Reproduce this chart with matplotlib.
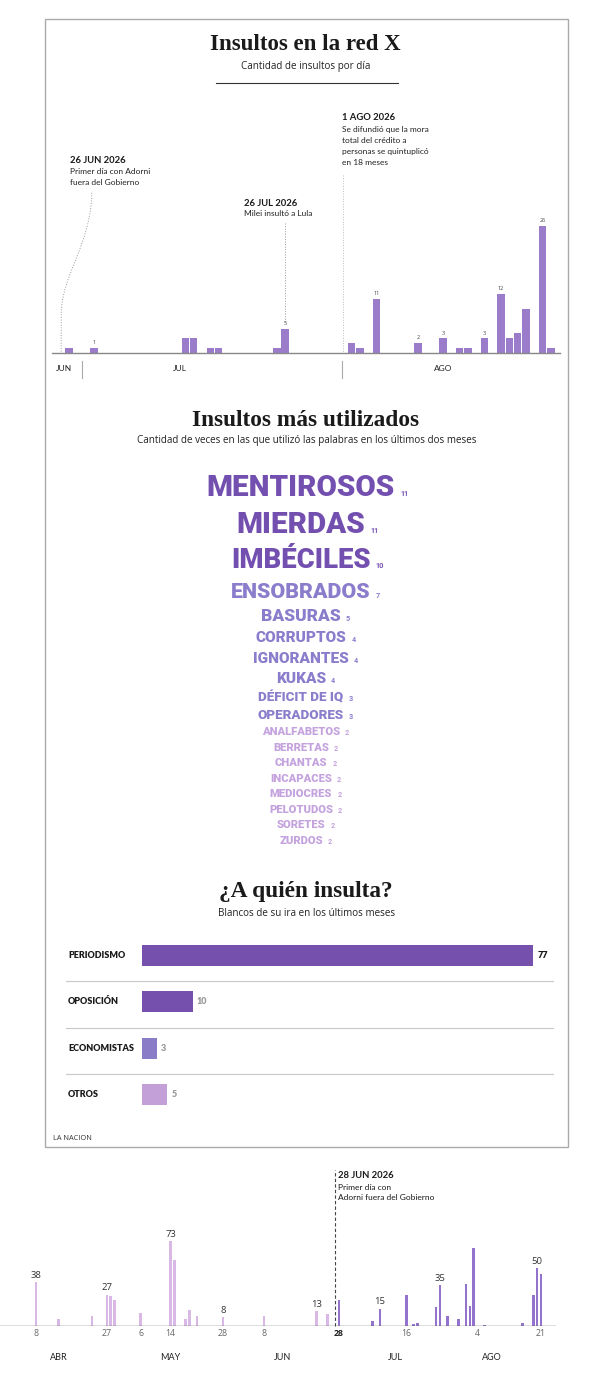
import matplotlib
matplotlib.use('Agg')
import matplotlib.pyplot as plt
import matplotlib.dates as mdates
from matplotlib.patches import Rectangle, PathPatch
from matplotlib.path import Path
from datetime import date

W, H = 600, 1393

# --- Insultos por dia (top chart): day slot and count
top_days = [0, 3, 14, 15, 17, 18, 25, 26, 34, 35, 37, 42, 45, 47, 48, 50, 52, 53, 54, 55, 57, 58]
top_counts = [1, 1, 3, 3, 1, 1, 1, 5, 2, 1, 11, 2, 3, 1, 1, 3, 12, 3, 4, 9, 26, 1]
top_labeled = [3, 26, 37, 42, 45, 50, 52, 57]
top_months = ['JUN', 'JUL', 'AGO']

# --- Insultos mas utilizados
words = ['MENTIROSOS', 'MIERDAS', 'IMBÉCILES', 'ENSOBRADOS', 'BASURAS', 'CORRUPTOS',
         'IGNORANTES', 'KUKAS', 'DÉFICIT DE IQ', 'OPERADORES', 'ANALFABETOS', 'BERRETAS',
         'CHANTAS', 'INCAPACES', 'MEDIOCRES', 'PELOTUDOS', 'SORETES', 'ZURDOS']
word_counts = [11, 11, 10, 7, 5, 4, 4, 4, 3, 3, 2, 2, 2, 2, 2, 2, 2, 2]

# --- A quien insulta
targets = ['PERIODISMO', 'OPOSICIÓN', 'ECONOMISTAS', 'OTROS']
target_counts = [77, 10, 3, 5]

# --- Historial (bottom chart)
hist_dates = ['2026-04-08', '2026-04-14', '2026-04-23', '2026-04-27', '2026-04-28', '2026-04-29',
              '2026-05-06', '2026-05-14', '2026-05-15', '2026-05-18', '2026-05-19', '2026-05-21',
              '2026-05-28', '2026-06-08', '2026-06-22', '2026-06-25', '2026-06-28', '2026-07-07',
              '2026-07-09', '2026-07-16', '2026-07-18', '2026-07-19', '2026-07-24', '2026-07-25',
              '2026-07-27', '2026-07-30', '2026-08-01', '2026-08-02', '2026-08-03', '2026-08-06',
              '2026-08-16', '2026-08-19', '2026-08-20', '2026-08-21']
hist_counts = [38, 6, 9, 27, 26, 22, 11, 73, 57, 6, 14, 9, 8, 9, 13, 10, 22, 4,
               15, 27, 2, 3, 16, 35, 9, 6, 36, 17, 67, 1, 3, 27, 50, 45]
hist_labeled = ['2026-04-08', '2026-04-27', '2026-05-14', '2026-05-28', '2026-06-22',
                '2026-07-09', '2026-07-25', '2026-08-20']
hist_ticks = ['2026-04-08', '2026-04-27', '2026-05-06', '2026-05-14', '2026-05-28',
              '2026-06-08', '2026-06-28', '2026-07-16', '2026-08-04', '2026-08-21']
hist_months = ['ABR', 'MAY', 'JUN', 'JUL', 'AGO']
hist_month_dates = ['2026-04-14', '2026-05-14', '2026-06-13', '2026-07-13', '2026-08-08']
adorni_out = '2026-06-27'

SERIF = ['Liberation Serif', 'DejaVu Serif']
SANS = ['Open Sans', 'DejaVu Sans']
LATO = ['Lato', 'DejaVu Sans']
ROBO = ['Roboto', 'DejaVu Sans']

fig = plt.figure(figsize=(W / 100, H / 100), dpi=100)


def add_ax(x0, y0, x1, y1):
    ax = fig.add_axes([x0 / W, 1 - y1 / H, (x1 - x0) / W, (y1 - y0) / H])
    ax.set_axis_off()
    return ax


def ftext(x, y, s, **kw):
    return fig.text(x / W, 1 - y / H, s, **kw)


def d2n(s):
    return mdates.date2num(date.fromisoformat(s))


# panel frame
fig.patches.append(Rectangle((44.5 / W, 1 - 1147 / H), (568 - 44.5) / W, (1147 - 18.5) / H,
                             transform=fig.transFigure, fill=False, ec='#aaaaaa', lw=1))

# ================= top chart
ftext(305, 45, 'Insultos en la red X', ha='center', va='center', family=SERIF,
      weight='bold', fontsize=16.5, color='#1a1a1a')
ftext(306, 66, 'Cantidad de insultos por día', ha='center', va='center', family=SANS,
      fontsize=7.1, color='#222222')
fig.lines.append(plt.Line2D([216 / W, 398 / W], [1 - 83 / H, 1 - 83 / H],
                            transform=fig.transFigure, color='#333333', lw=0.8))

px_unit = 4.9
ax1 = add_ax(51.7, 100, 560, 353)
ax1.set_xlim(-2.1, 59.1)
ax1.set_ylim(0, 253 / px_unit)
ax1.bar(top_days, top_counts, width=0.9, color='#9b7ccb', zorder=2)
for d, c in zip(top_days, top_counts):
    if d in top_labeled:
        ax1.annotate(str(c), (d, c), xytext=(0, 2), textcoords='offset points',
                     ha='center', va='bottom', fontsize=4, color='#444444', family=SANS)
ax1.axhline(0, color='#888888', lw=1, clip_on=False, zorder=3)

# month labels and separators
for name, pos, ha in zip(top_months, [-1.6, 12.5, 45.0], ['left', 'left', 'center']):
    ax1.text(pos, -3.1, name, ha=ha, va='center', fontsize=6, family=LATO,
             color='#222222', clip_on=False)
for sep in [1.57, 32.8]:
    ax1.plot([sep, sep], [-1.6, -5.1], color='#aaaaaa', lw=0.8, clip_on=False)

# annotation: 26 JUN
ax1.text(0.1, 39.2, '26 JUN 2026', fontsize=6.8, weight='bold', family=LATO,
         color='#1a1a1a', va='center', clip_on=False)
ax1.text(0.1, 37.0, 'Primer día con Adorni', fontsize=6, family=LATO, color='#222222',
         va='center', clip_on=False)
ax1.text(0.1, 34.8, 'fuera del Gobierno', fontsize=6, family=LATO, color='#222222',
         va='center', clip_on=False)
curve = Path([(2.73, 32.7), (2.6, 22), (-0.9, 16), (-0.95, 8), (-0.96, 0)],
             [Path.MOVETO, Path.CURVE4, Path.CURVE4, Path.CURVE4, Path.LINETO])
ax1.add_patch(PathPatch(curve, fill=False, ec='#999999', lw=0.7, ls=':', clip_on=False))

# annotation: 26 JUL
ax1.text(21.0, 30.6, '26 JUL 2026', fontsize=6.8, weight='bold', family=LATO,
         color='#1a1a1a', va='center', clip_on=False)
ax1.text(21.0, 28.4, 'Milei insultó a Lula', fontsize=6, family=LATO, color='#222222',
         va='center', clip_on=False)
ax1.plot([26, 26], [26.6, 6.4], color='#999999', lw=0.7, ls=':')

# annotation: 1 AGO
ax1.text(32.8, 48.0, '1 AGO 2026', fontsize=6.8, weight='bold', family=LATO,
         color='#1a1a1a', va='center', clip_on=False)
for i, line in enumerate(['Se difundió que la mora', 'total del crédito a',
                          'personas se quintuplicó', 'en 18 meses']):
    ax1.text(32.8, 45.6 - 2.25 * i, line, fontsize=6, family=LATO, color='#222222',
             va='center', clip_on=False)
ax1.plot([33, 33], [36.3, 0], color='#bbbbbb', lw=0.7, ls=':')

# ================= word cloud
ftext(306, 421, 'Insultos más utilizados', ha='center', va='center', family=SERIF,
      weight='bold', fontsize=16.8, color='#1a1a1a')
ftext(307, 441, 'Cantidad de veces en las que utilizó las palabras en los últimos dos meses',
      ha='center', va='center', family=SANS, fontsize=7.1, color='#222222')


def word_color(c):
    if c >= 10:
        return '#7350b0'
    if c >= 3:
        return '#8b7dcc'
    return '#c4a2de'


renderer = fig.canvas.get_renderer()
sizes = [(5 + 1.4 * c) * 1.045 for c in word_counts]
cy = 485.0
prev_px = None
for w, c, s in zip(words, word_counts, sizes):
    size_px = s * 100 / 72
    if prev_px is not None:
        cy += 0.5 * (prev_px + size_px) * 1.2 + 1.9
    prev_px = size_px
    base = cy + 0.711 * size_px / 2
    col = word_color(c)
    t = ftext(301, base, w, ha='center', va='baseline', family=ROBO, weight='black',
              fontsize=s, color=col)
    bb = t.get_window_extent(renderer)
    ftext(bb.x1 + 5, base, str(c), ha='left', va='baseline', family=ROBO,
          weight='bold', fontsize=5.2, color=col)

# ================= a quien insulta
ftext(306, 892, '¿A quién insulta?', ha='center', va='center', family=SERIF,
      weight='bold', fontsize=16.8, color='#1a1a1a')
ftext(307, 913, 'Blancos de su ira en los últimos meses', ha='center', va='center',
      family=SANS, fontsize=7.1, color='#222222')

bar_unit = 5.08
ax2 = add_ax(142, 932, 553, 1118)
ax2.set_xlim(0, 411 / bar_unit)
ax2.set_ylim(3.5, -0.5)
bar_cols = ['#7551ad', '#7551ad', '#8b7cc8', '#c4a0d8']
ypos = list(range(len(targets)))
ax2.barh(ypos, target_counts, height=0.45, color=bar_cols)
for i, (name, c) in enumerate(zip(targets, target_counts)):
    ax2.text((68 - 142) / bar_unit, i, name, ha='left', va='center', family=LATO,
             weight='heavy', fontsize=6.5, color='#1a1a1a', clip_on=False)
    ax2.text(c + 4 / bar_unit, i, str(c), ha='left', va='center', family=LATO,
             weight='heavy', fontsize=6.5, color='#1a1a1a' if i == 0 else '#999999')
    if i < len(targets) - 1:
        ax2.plot([(66 - 142) / bar_unit, 411 / bar_unit], [i + 0.56, i + 0.56],
                 color='#c8c8c8', lw=0.8, clip_on=False)

ftext(53, 1138, 'LA NACION', ha='left', va='center', family=SANS, fontsize=5.3,
      color='#333333')

# ================= historial
h_unit = 1.165
day_px = 3.74
ax3 = add_ax(0, 1160, 556, 1326)
x_first = d2n(hist_dates[0])
ax3.set_xlim(x_first - 36 / day_px, x_first + 520 / day_px)
ax3.set_ylim(0, 166 / h_unit)
hx = [d2n(d) for d in hist_dates]
cut = d2n(adorni_out)
hcols = ['#d9b8e6' if x < cut else '#9473cc' for x in hx]
ax3.bar(hx, hist_counts, width=0.7, color=hcols, zorder=2)
for d, x, c in zip(hist_dates, hx, hist_counts):
    if d in hist_labeled:
        ax3.annotate(str(c), (x, c), xytext=(0, 1.5), textcoords='offset points',
                     ha='center', va='bottom', fontsize=6.8, color='#333333', family=SANS)
ax3.axhline(0, color='#555555', lw=1, zorder=3)
for d in hist_ticks:
    bold = d == '2026-06-28'
    ax3.text(d2n(d), -7 / 166, str(date.fromisoformat(d).day), transform=ax3.get_xaxis_transform(),
             ha='center', va='center', fontsize=6.3, family=SANS,
             weight='bold' if bold else 'normal', color='#222222' if bold else '#666666')
for m, d in zip(hist_months, hist_month_dates):
    ax3.text(d2n(d), -31 / 166, m, transform=ax3.get_xaxis_transform(), ha='center',
             va='center', fontsize=6.5, family=LATO, color='#222222')
ax3.plot([cut, cut], [0, 156 / h_unit], color='#444444', lw=0.8, ls=(0, (3, 2)),
         clip_on=False)
for i, (line, bold) in enumerate([('28 JUN 2026', True), ('Primer día con', False),
                                  ('Adorni fuera del Gobierno', False)]):
    ax3.annotate(line, (cut, (150 - 11 * i) / h_unit), xytext=(2.2, 0),
                 textcoords='offset points', ha='left', va='center', family=LATO,
                 fontsize=6.8 if bold else 6, weight='bold' if bold else 'normal',
                 color='#1a1a1a', annotation_clip=False)

fig.savefig('out.png', dpi=100)
